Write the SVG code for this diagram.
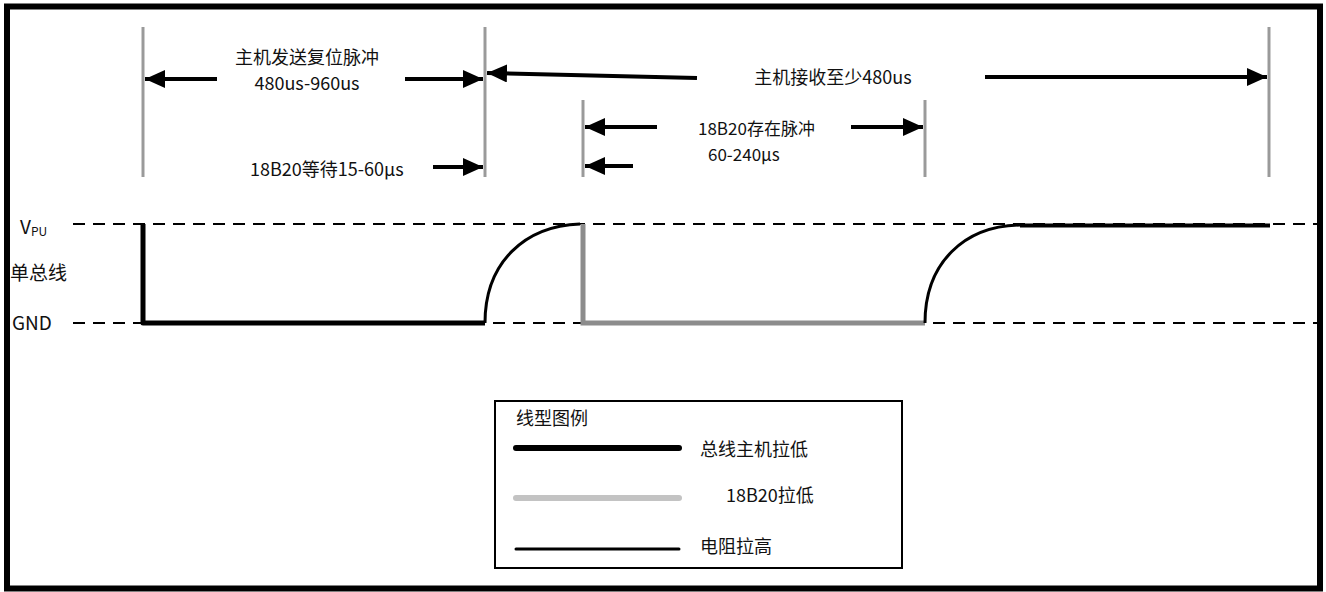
<svg xmlns="http://www.w3.org/2000/svg" width="1326" height="592" viewBox="0 0 1326 592">
<style>
.t{font-family:"Noto Sans CJK SC","Noto Sans",sans-serif;font-size:18px;fill:#111}
.s{font-size:17px}
.b{font-size:19px}
.tick{stroke:#9a9a9a;stroke-width:3}
.arr{stroke:#000;stroke-width:4;fill:none}
.dash{stroke:#000;stroke-width:2;stroke-dasharray:12 8;fill:none}
</style>
<defs>
<marker id="ah" markerUnits="userSpaceOnUse" markerWidth="22" markerHeight="18" refX="20" refY="9" orient="auto">
<path d="M0,0 L20,9 L0,18 Z" fill="#000"/>
</marker>
</defs>
<rect x="7" y="6.5" width="1313" height="582" fill="#fff" stroke="#000" stroke-width="6"/>

<g id="ticks">
<line class="tick" x1="143" y1="27" x2="143" y2="177"/>
<line class="tick" x1="485" y1="27" x2="485" y2="177"/>
<line class="tick" x1="583" y1="100" x2="583" y2="177"/>
<line class="tick" x1="925" y1="100" x2="925" y2="177"/>
<line class="tick" x1="1269" y1="27" x2="1269" y2="177"/>
</g>

<g id="connectors">
<line class="arr" x1="217" y1="79" x2="145" y2="79" marker-end="url(#ah)"/>
<line class="arr" x1="405" y1="79" x2="483" y2="79" marker-end="url(#ah)"/>
<line class="arr" x1="697" y1="78" x2="487" y2="73" marker-end="url(#ah)"/>
<line class="arr" x1="985" y1="77" x2="1267" y2="77" marker-end="url(#ah)"/>
<line class="arr" x1="657" y1="127" x2="585" y2="127" marker-end="url(#ah)"/>
<line class="arr" x1="851" y1="127" x2="923" y2="127" marker-end="url(#ah)"/>
<line class="arr" x1="433" y1="167" x2="483" y2="167" marker-end="url(#ah)"/>
<line class="arr" x1="633" y1="166" x2="585" y2="166" marker-end="url(#ah)"/>
</g>

<g id="labels">
<text class="t" x="307" y="64" text-anchor="middle">主机发送复位脉冲</text>
<text class="t" x="307" y="90" text-anchor="middle">480us-960us</text>
<text class="t" x="833" y="84" text-anchor="middle">主机接收至少480us</text>
<text class="t s" x="698" y="135">18B20存在脉冲</text>
<text class="t s" x="708" y="161">60-240μs</text>
<text class="t" x="250" y="176">18B20等待15-60μs</text>
</g>

<g id="axis">
<line class="dash" x1="73" y1="224" x2="1318" y2="224"/>
<line class="dash" x1="73" y1="323" x2="1318" y2="323"/>
<text class="t b" x="20" y="234">V<tspan font-size="12" dy="2">PU</tspan></text>
<text class="t b" x="10" y="280">单总线</text>
<text class="t b" x="12" y="330">GND</text>
</g>

<g id="waveform">
<polyline points="143,224 143,323 485,323" fill="none" stroke="#000" stroke-width="5" stroke-linejoin="round"/>
<path d="M485,323 C485,262 525,226 580,224" fill="none" stroke="#000" stroke-width="3"/>
<polyline points="583,224 583,323 925,323" fill="none" stroke="#8c8c8c" stroke-width="5"/>
<path d="M925,323 C925,262 965,226 1020,225" fill="none" stroke="#000" stroke-width="3"/>
<line x1="1020" y1="225.5" x2="1270" y2="225.5" stroke="#000" stroke-width="4"/>
</g>

<g id="legend">
<rect x="495" y="401" width="407" height="167" fill="none" stroke="#000" stroke-width="2"/>
<text class="t" x="516" y="425">线型图例</text>
<line x1="516" y1="448" x2="679" y2="448" stroke="#000" stroke-width="6" stroke-linecap="round"/>
<text class="t" x="700" y="456">总线主机拉低</text>
<line x1="516" y1="498" x2="679" y2="498" stroke="#c3c3c3" stroke-width="6" stroke-linecap="round"/>
<text class="t" x="726" y="502">18B20拉低</text>
<line x1="516" y1="549" x2="679" y2="549" stroke="#000" stroke-width="3" stroke-linecap="round"/>
<text class="t" x="700" y="553">电阻拉高</text>
</g>
</svg>
